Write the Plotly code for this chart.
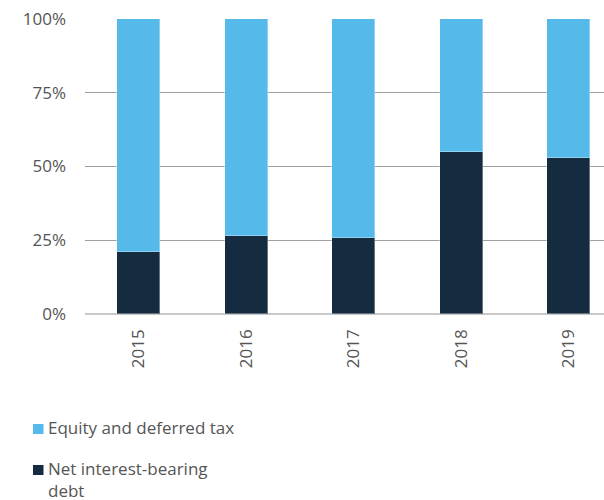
import plotly.graph_objects as go

years = ["2015", "2016", "2017", "2018", "2019"]
net_debt = [21.0, 26.3, 25.8, 54.8, 53.0]
equity = [100 - v for v in net_debt]

series_names = ["Net interest-bearing<br>debt", "Equity and deferred tax"]
series_colors = ["#152b40", "#55b9ea"]

FONT = "Open Sans, DejaVu Sans, sans-serif"
TEXT_COLOR = "#555555"

W, H = 604, 500
ML, MR, MT, MB = 85, 0, 19, 186
PW, PH = W - ML - MR, H - MT - MB


def px_x(x):
    return (x - ML) / PW


def px_y(y):
    return (H - MB - y) / PH


fig = go.Figure()
for name, vals, col in [(series_names[0], net_debt, series_colors[0]),
                        (series_names[1], equity, series_colors[1])]:
    fig.add_trace(go.Bar(
        x=years, y=vals, name=name, width=0.40,
        marker=dict(color=col, line=dict(color="rgba(255,255,255,0.35)", width=1)),
        showlegend=False,
    ))

# legend drawn as swatches with text beside them
legend_items = [
    ("Equity and deferred tax", series_colors[1], 424, 434),
    ("Net interest-bearing<br>debt", series_colors[0], 465, 475),
]
shapes = []
annotations = []
for label, col, y0, y1 in legend_items:
    shapes.append(dict(type="rect", xref="paper", yref="paper",
                       x0=px_x(33), x1=px_x(43.5), y0=px_y(y1), y1=px_y(y0),
                       fillcolor=col, line=dict(width=0)))
    annotations.append(dict(xref="paper", yref="paper", x=px_x(46), y=px_y(y0 - 10),
                            xanchor="left", yanchor="top", align="left",
                            text=label, showarrow=False,
                            font=dict(family=FONT, size=17, color=TEXT_COLOR)))

fig.update_layout(
    width=W, height=H,
    margin=dict(l=ML, r=MR, t=MT, b=MB),
    barmode="stack",
    bargap=0,
    plot_bgcolor="white",
    paper_bgcolor="white",
    font=dict(family=FONT, size=17, color=TEXT_COLOR),
    shapes=shapes,
    annotations=annotations,
    xaxis=dict(
        type="category",
        range=[-0.497, 4.326],
        tickangle=-90,
        showgrid=False,
        showline=False,
        zeroline=False,
        ticks="",
        ticklabelstandoff=11,
        tickfont=dict(family=FONT, size=17, color=TEXT_COLOR),
    ),
    yaxis=dict(
        range=[0, 100],
        tickvals=[0, 25, 50, 75, 100],
        ticktext=["0%", "25%", "50%", "75%", "100%"],
        showgrid=True,
        gridcolor="#a0a0a0",
        gridwidth=1,
        zeroline=True,
        zerolinecolor="#c8c8c8",
        zerolinewidth=2,
        showline=False,
        ticks="",
        ticklabelstandoff=18,
        tickfont=dict(family=FONT, size=17, color=TEXT_COLOR),
    ),
)

fig.write_html("out.html")
